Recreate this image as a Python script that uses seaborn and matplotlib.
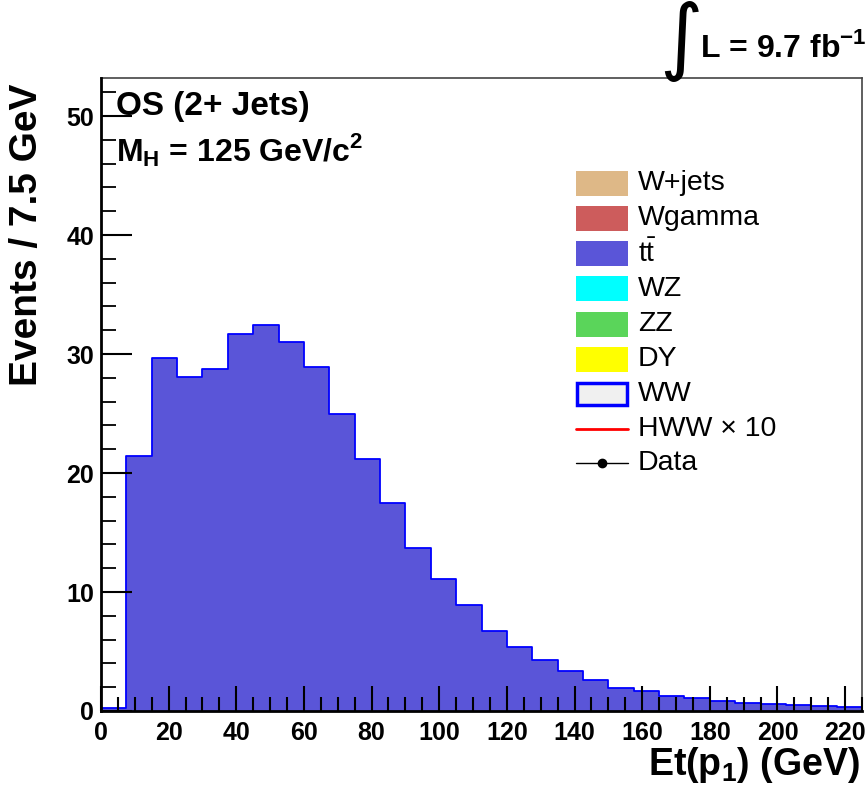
import numpy as np
import pandas as pd
import seaborn as sns
import matplotlib
matplotlib.use("Agg")
import matplotlib.pyplot as plt
from matplotlib.patches import Rectangle
from matplotlib.lines import Line2D
from matplotlib.ticker import MultipleLocator

# ---- data ----
bin_edges = [i * 7.5 for i in range(31)]
ttbar = [0.22, 21.4, 29.7, 28.1, 28.75, 31.65, 32.4, 31.0, 28.9, 25.0,
         21.2, 17.5, 13.7, 11.1, 8.9, 6.7, 5.35, 4.25, 3.35, 2.6,
         1.95, 1.68, 1.26, 1.06, 0.84, 0.64, 0.58, 0.5, 0.42, 0.36]
legend_labels = ["W+jets", "Wgamma", r"t$\mathregular{\bar{t}}$", "WZ", "ZZ", "DY", "WW",
                 "HWW \u00d7 10", "Data"]
legend_colors = ["#deb887", "#cd5c5c", "#5a55d8", "#00ffff", "#5ad55a", "#ffff00", "#f0f0f0",
                 "#ff0000", "#000000"]

sns.set_theme(style="white")
plt.rcParams["font.family"] = ["Liberation Sans", "DejaVu Sans"]
plt.rcParams["mathtext.fontset"] = "custom"
plt.rcParams["mathtext.rm"] = "Liberation Sans"
plt.rcParams["mathtext.bf"] = "Liberation Sans:bold"
plt.rcParams["text.color"] = "black"
plt.rcParams["xtick.color"] = "black"
plt.rcParams["ytick.color"] = "black"
plt.rcParams["xtick.minor.visible"] = True
plt.rcParams["ytick.minor.visible"] = True

centers = [(a + b) / 2 for a, b in zip(bin_edges[:-1], bin_edges[1:])]
df = pd.DataFrame({"x": centers, "w": ttbar})

fig = plt.figure(figsize=(8.68, 7.85), dpi=100)
ax = fig.add_axes([101/868, 1 - 711/785, (862-101)/868, (711-78)/785])
ax.set_axisbelow(False)

sns.histplot(data=df, x="x", weights="w", bins=bin_edges, element="step", fill=True,
             color="#5a55d8", alpha=1.0, linewidth=0, ax=ax)
sns.histplot(data=df, x="x", weights="w", bins=bin_edges, element="step", fill=False,
             color="#0000ff", linewidth=1.3, ax=ax)

ax.set_xlim(0, 225)
ax.set_ylim(0, 53.2)
ax.xaxis.set_major_locator(MultipleLocator(20))
ax.xaxis.set_minor_locator(MultipleLocator(5))
ax.yaxis.set_major_locator(MultipleLocator(10))
ax.yaxis.set_minor_locator(MultipleLocator(2))
ax.tick_params(axis="x", which="major", direction="in", length=18, width=1.5, pad=7,
               labelsize=18, color="black", labelcolor="black", bottom=True)
ax.tick_params(axis="y", which="major", direction="in", length=22, width=1.5, pad=5,
               labelsize=18, color="black", labelcolor="black", left=True)
ax.tick_params(axis="x", which="minor", direction="in", length=10, width=1.5,
               color="black", bottom=True)
ax.tick_params(axis="y", which="minor", direction="in", length=11, width=1.3,
               color="black", left=True)
for lab in ax.get_xticklabels() + ax.get_yticklabels():
    lab.set_fontweight("bold")
for s in ["left", "bottom"]:
    ax.spines[s].set_color("black")
    ax.spines[s].set_linewidth(2)
    ax.spines[s].set_zorder(5)
for s in ["top", "right"]:
    ax.spines[s].set_color("#444444")
    ax.spines[s].set_linewidth(1.2)

ax.set_xlabel("")
ax.set_ylabel("")
fig.text(860/868, 1 - 765/785, r"Et(p$_\mathbf{1}$) (GeV)", ha="right", va="center",
         fontsize=27, fontweight="bold")
fig.text(27/868, 1 - 84/785, "Events / 7.5 GeV", ha="center", va="top", rotation=90,
         fontsize=28, fontweight="bold")

fig.text(116/868, 1 - 106/785, "OS (2+ Jets)", ha="left", va="center",
         fontsize=24, fontweight="bold")
fig.text(116/868, 1 - 150/785, r"M$_\mathbf{H}$ = 125 GeV/c$^\mathbf{2}$", ha="left",
         va="center", fontsize=23, fontweight="bold")

fig.text(681/868, 1 - 42/785, "\u222b", ha="center", va="center", fontsize=60,
         family="DejaVu Sans")
fig.text(700/868, 1 - 48/785, r"L = 9.7 fb$^\mathbf{-1}$", ha="left", va="center",
         fontsize=23, fontweight="bold")

# legend (manual)
row_y = [183, 218, 254, 289, 324, 359, 394, 429, 463]
for lab, col, ypx in zip(legend_labels, legend_colors, row_y):
    yf = 1 - ypx/785
    if lab == "WW":
        fig.patches.append(Rectangle((577/868, yf - 11/785), 50/868, 22/785,
                                     facecolor=col, edgecolor="#0000ff", linewidth=2.5,
                                     transform=fig.transFigure, figure=fig))
    elif lab.startswith("HWW"):
        fig.lines.append(Line2D([576/868, 628/868], [yf, yf], color=col, linewidth=2,
                                transform=fig.transFigure, figure=fig))
    elif lab == "Data":
        fig.lines.append(Line2D([576/868, 628/868], [yf, yf], color=col, linewidth=1,
                                transform=fig.transFigure, figure=fig))
        fig.lines.append(Line2D([602/868], [yf], color=col, marker="o", markersize=6,
                                transform=fig.transFigure, figure=fig))
    else:
        fig.patches.append(Rectangle((576/868, yf - 12.5/785), 52/868, 25/785,
                                     facecolor=col, edgecolor="none",
                                     transform=fig.transFigure, figure=fig))
    fig.text(638/868, yf, lab, ha="left", va="center", fontsize=20.5)

fig.savefig("out.png", dpi=100)
